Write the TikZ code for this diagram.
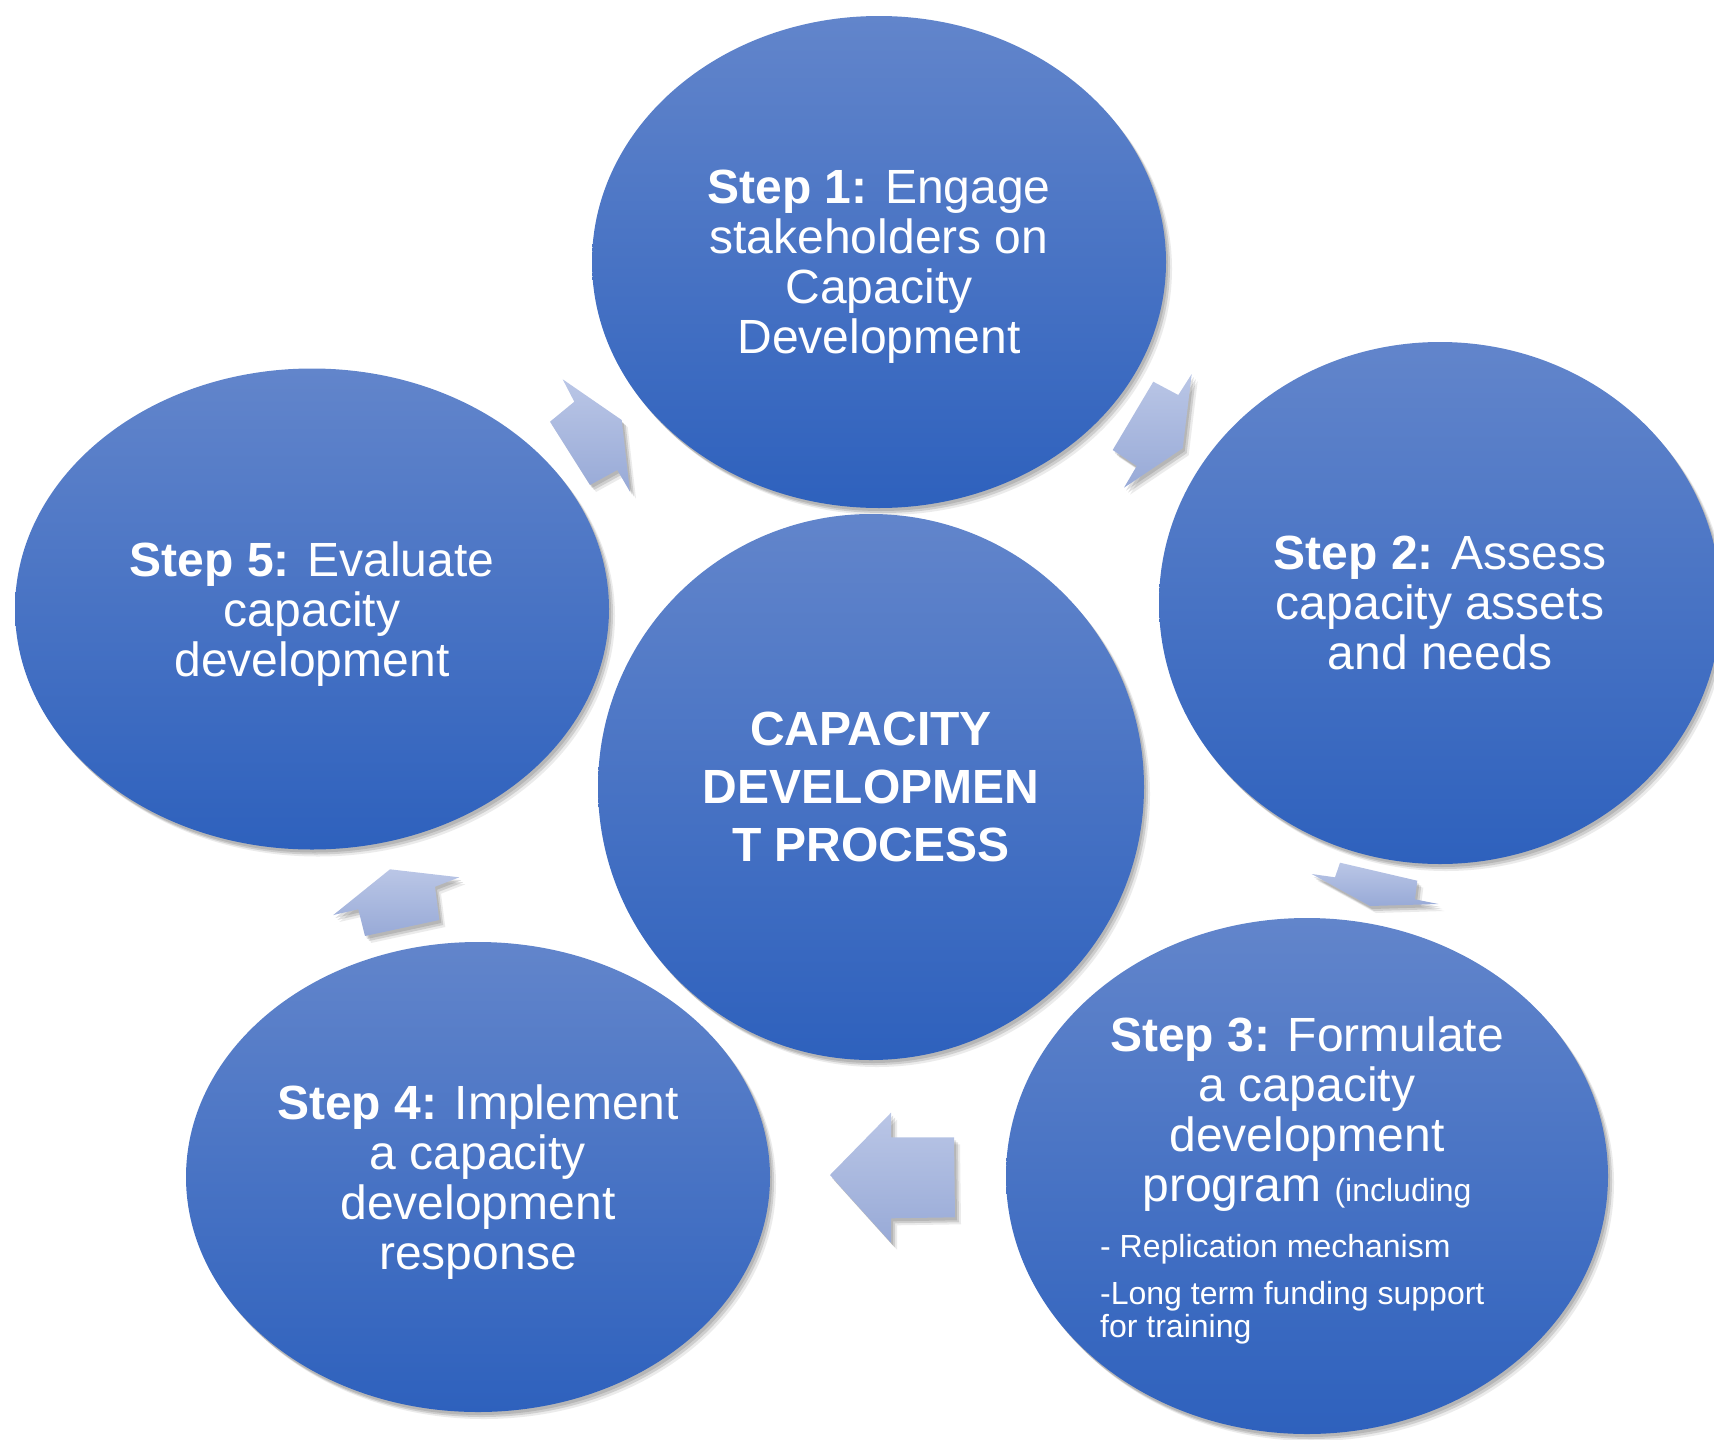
\documentclass[tikz,border=0pt]{standalone}
\usepackage{fontspec}
\setmainfont{Liberation Sans}
\usetikzlibrary{shapes.geometric,shadows}
\definecolor{btop}{RGB}{98,133,203}
\definecolor{bbot}{RGB}{46,97,189}
\definecolor{atop}{RGB}{186,198,230}
\definecolor{abot}{RGB}{152,170,215}
\tikzset{
  softshadow/.style={
    general shadow={fill=black,opacity=0.12,shadow xshift=2pt,shadow yshift=-3pt},
    general shadow={fill=black,opacity=0.12,shadow xshift=4pt,shadow yshift=-5pt},
    general shadow={fill=black,opacity=0.08,shadow xshift=6pt,shadow yshift=-7pt}},
  bubble/.style={ellipse, draw=none, top color=btop, bottom color=bbot, softshadow,
    text=white, align=center, inner sep=0pt, text depth=0pt, font=\fontsize{48}{50}\selectfont},
  bubbletext/.style={text=white, align=center, inner sep=0pt, font=\fontsize{48}{50}\selectfont},
  smalltext/.style={text=white, align=left, inner sep=0pt, font=\fontsize{32}{33}\selectfont},
  blockarrow/.style={top color=atop, bottom color=abot, draw=none, softshadow}
}
\begin{document}
\begin{tikzpicture}[x=1pt,y=-1pt]
\useasboundingbox (0,0) rectangle (1714,1440);

% bubbles
\node[bubble, minimum width=574pt, minimum height=492pt] (s1) at (879,262)
  {\textbf{Step 1:} Engage\\stakeholders on\\Capacity\\Development};
\node[bubble, minimum width=562pt, minimum height=522pt] (s2) at (1440,603)
  {\textbf{Step 2:} Assess\\capacity assets\\and needs};
\node[bubble, minimum width=602pt, minimum height=516pt] (s3) at (1307,1176) {};
\node[bubble, minimum width=584pt, minimum height=470pt] (s4) at (478,1177)
  {\textbf{Step 4:} Implement\\a capacity\\development\\response};
\node[bubble, minimum width=594pt, minimum height=481pt] (s5) at (312,609)
  {\textbf{Step 5:} Evaluate\\capacity\\development};
\node[bubble, minimum width=546pt, minimum height=546pt,
  font=\bfseries\fontsize{48}{58}\selectfont] (c) at (871,787)
  {CAPACITY\\DEVELOPMEN\\T PROCESS};

% step 3 texts
\node[bubbletext] (s3t) at (1307,1114)
  {\textbf{Step 3:} Formulate\\a capacity\\development\\program {\fontsize{32}{50}\selectfont(including}};
\node[smalltext, anchor=west] (s3b) at (1100,1289)
  {- Replication mechanism\\[14pt]-Long term funding support\\for training};

% block arrows
\path[blockarrow] (562.7,379.3) -- (574.3,401.7) -- (550,421.7) -- (590,485)
  -- (617.3,470) -- (630,491.7) -- (621.7,420) -- cycle;
\path[blockarrow] (1153.3,381.7) -- (1178.3,395) -- (1191.7,374) -- (1182.7,448.3)
  -- (1124,487.7) -- (1136.7,466) -- (1112.7,450) -- cycle;
\path[blockarrow] (1311.7,874) -- (1335,877.3) -- (1340,862.7) -- (1417.3,880.7)
  -- (1415,899.3) -- (1438.3,904) -- (1370,906) -- cycle;
\path[blockarrow] (830,1175) -- (891,1112.7) -- (891,1137.3) -- (954,1137.3)
  -- (955,1217.3) -- (891,1218.3) -- (891,1242.7) -- cycle;
\path[blockarrow] (333.3,915) -- (390,869.3) -- (459.3,877.3) -- (435,886.7)
  -- (439.3,920) -- (365,936) -- (358.3,909.3) -- cycle;
\end{tikzpicture}
\end{document}
